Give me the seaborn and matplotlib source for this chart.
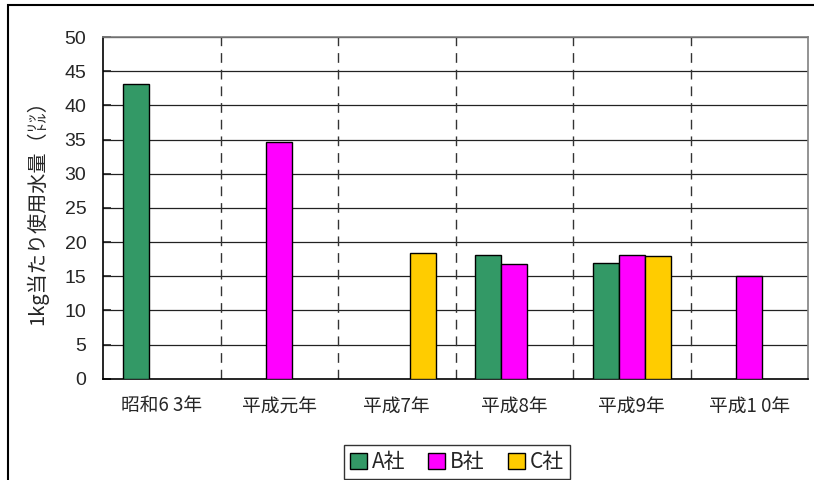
import numpy as np
import pandas as pd
import matplotlib
matplotlib.use("Agg")
import matplotlib.pyplot as plt
import seaborn as sns
from matplotlib.patches import Rectangle

# データ
nendo = ["昭和6 3年", "平成元年", "平成7年", "平成8年", "平成9年", "平成1 0年"]
a_sha = [43.1, np.nan, np.nan, 18.1, 17.0, np.nan]
b_sha = [np.nan, 34.7, np.nan, 16.8, 18.1, 15.0]
c_sha = [np.nan, np.nan, 18.4, np.nan, 17.9, np.nan]
kaisha = ["A社", "B社", "C社"]
iro = ["#339966", "#FF00FF", "#FFCC00"]

# ロング形式に変換
tabela = pd.DataFrame({"nendo": nendo * 3,
                       "kaisha": np.repeat(kaisha, len(nendo)),
                       "ryo": a_sha + b_sha + c_sha})

sns.set_style("white")
plt.rcParams['font.family'] = ['Liberation Sans', 'Noto Sans CJK JP', 'DejaVu Sans']
jp = ["Noto Sans CJK JP", "DejaVu Sans"]

fig = plt.figure(figsize=(8.14, 4.80), dpi=100)
ax = fig.add_axes([103/814, 1-378.8/480, 705/814, (378.8-37)/480])

sns.barplot(data=tabela, x="nendo", y="ryo", hue="kaisha", order=nendo,
            hue_order=kaisha, palette=iro, width=0.66, edgecolor="black",
            linewidth=1, saturation=1, ax=ax, zorder=3)

ax.set_ylim(0, 50)
ax.set_yticks(range(0, 51, 5))
ax.set_xlim(-0.5, len(nendo) - 0.5)

# 横の目盛線と縦の点線
for v in range(5, 51, 5):
    ax.axhline(v, color="#222222", lw=0.9, zorder=1)
for i in range(len(nendo) - 1):
    ax.axvline(i + 0.5, color="#333333", lw=1.0, ls=(0, (7, 5)), zorder=1)

for s in ["top", "right"]:
    ax.spines[s].set_color("#808080")
    ax.spines[s].set_linewidth(1.2)
for s in ["left", "bottom"]:
    ax.spines[s].set_color("black")
    ax.spines[s].set_linewidth(1.2)

ax.tick_params(axis="y", direction="in", length=6, width=1.2, pad=12,
               labelsize=14, left=True)
ax.tick_params(axis="x", length=0, pad=12)
for t in ax.get_xticklabels():
    t.set_fontfamily(jp)
    t.set_fontsize(13.5)

ax.set_xlabel("")
ax.set_ylabel("1kg当たり使用水量（㍑）", fontsize=14.5, labelpad=12, family=jp)

ax.get_legend().remove()
handles = [Rectangle((0, 0), 1, 1, facecolor=c, edgecolor="black", lw=1) for c in iro]
leg = fig.legend(handles, kaisha, loc="center", bbox_to_anchor=(457/814, 1-462/480),
                 ncol=3, frameon=True, fancybox=False,
                 handlelength=0.8, handleheight=0.8, handletextpad=0.25,
                 columnspacing=1.1, borderpad=0.3,
                 prop={"family": jp, "size": 15})
leg.get_frame().set_edgecolor("black")
leg.get_frame().set_linewidth(1)

# 外枠
fig.patches.append(Rectangle((8/814, -0.1), 1.2, 1 - 5/480 + 0.1,
                             transform=fig.transFigure, fill=False,
                             edgecolor="black", lw=1.5))

fig.savefig("out.png", dpi=100)
